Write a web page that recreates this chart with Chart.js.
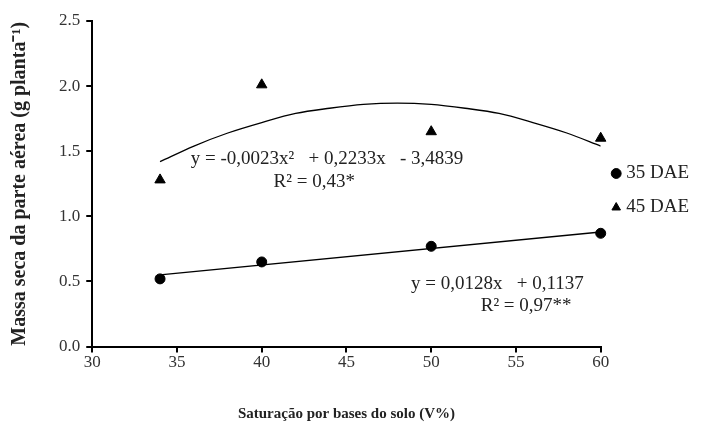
<!DOCTYPE html>
<html>
<head>
<meta charset="utf-8">
<script src="https://cdn.jsdelivr.net/npm/chart.js@4.4.0/dist/chart.umd.min.js"></script>
<style>
html,body{margin:0;padding:0;background:#fff;}
#wrap{width:727px;height:427px;}
</style>
</head>
<body>
<div id="wrap"><canvas id="c" width="727" height="427"></canvas></div>
<script>
const xValues = [34, 40, 50, 60];
const dae35 = [0.52, 0.65, 0.77, 0.87];
const dae45 = [1.28, 2.01, 1.65, 1.60];
const trend35X = [34, 60];
const trend35Y = [0.55, 0.88];
const trend45X = [34, 36, 38, 40, 42, 44, 46, 48, 50, 52, 54, 56, 58, 60];
const trend45Y = [1.42, 1.54, 1.64, 1.72, 1.79, 1.83, 1.86, 1.87, 1.86, 1.83, 1.79, 1.72, 1.64, 1.54];
const seriesNames = ['35 DAE', '45 DAE'];
const xTitle = 'Saturação por bases do solo (V%)';
const yTitle = 'Massa seca da parte aérea (g planta⁻¹)';
const equations = [
  {text: 'y = -0,0023x²   + 0,2233x   - 3,4839', x: 43.85, y: 1.44},
  {text: 'R² = 0,43*', x: 43.1, y: 1.26},
  {text: 'y = 0,0128x   + 0,1137', x: 53.9, y: 0.48},
  {text: 'R² = 0,97**', x: 55.6, y: 0.31}
];

const FONT = '"Liberation Serif", "Times New Roman", serif';
const toXY = (xs, ys) => xs.map((x, i) => ({x: x, y: ys[i]}));

const eqPlugin = {
  id: 'eq',
  afterDatasetsDraw(chart) {
    const ctx = chart.ctx;
    const xs = chart.scales.x, ys = chart.scales.y;
    ctx.save();
    ctx.fillStyle = '#222';
    ctx.font = '19px ' + FONT;
    ctx.textAlign = 'center';
    ctx.textBaseline = 'middle';
    equations.forEach(e => {
      ctx.fillText(e.text, xs.getPixelForValue(e.x), ys.getPixelForValue(e.y));
    });
    ctx.restore();
  }
};

new Chart(document.getElementById('c'), {
  type: 'scatter',
  data: {
    datasets: [
      {label: seriesNames[0], data: toXY(xValues, dae35), pointStyle: 'circle', pointRadius: 5, backgroundColor: '#000', borderColor: '#000', showLine: false, clip: false},
      {label: seriesNames[1], data: toXY(xValues, dae45), pointStyle: 'triangle', pointRadius: 6, backgroundColor: '#000', borderColor: '#000', showLine: false, clip: false},
      {label: 'trend35', data: toXY(trend35X, trend35Y), showLine: true, pointRadius: 0, borderColor: '#000', borderWidth: 1.3, fill: false},
      {label: 'trend45', data: toXY(trend45X, trend45Y), showLine: true, pointRadius: 0, borderColor: '#000', borderWidth: 1.3, fill: false, tension: 0.4, cubicInterpolationMode: 'monotone'}
    ]
  },
  options: {
    responsive: false,
    animation: false,
    layout: {padding: {left: 8, right: 28, top: 21, bottom: 4}},
    plugins: {
      tooltip: {enabled: false},
      legend: {
        position: 'right',
        align: 'start',
        title: {display: true, text: ' ', font: {size: 10}, padding: {top: 116, bottom: 0}},
        labels: {
          filter: item => item.datasetIndex < 2,
          usePointStyle: true,
          boxWidth: 1,
          boxHeight: 7,
          padding: 15,
          color: '#222',
          font: {family: FONT, size: 19}
        }
      }
    },
    scales: {
      x: {
        type: 'linear',
        min: 30, max: 60,
        border: {color: '#000', width: 2},
        grid: {display: true, drawOnChartArea: false, tickLength: 6, color: '#000', lineWidth: 2},
        ticks: {stepSize: 5, color: '#333', font: {family: FONT, size: 17}, padding: 0},
        title: {display: true, text: xTitle, color: '#222', font: {family: FONT, size: 15, weight: 'bold'}, padding: {top: 32, bottom: 0}}
      },
      y: {
        type: 'linear',
        min: 0, max: 2.5,
        border: {color: '#000', width: 2},
        grid: {display: true, drawOnChartArea: false, tickLength: 6, color: '#000', lineWidth: 2},
        ticks: {stepSize: 0.5, color: '#333', font: {family: FONT, size: 17}, padding: 6, callback: v => v.toFixed(1)},
        title: {display: true, text: yTitle, color: '#222', font: {family: FONT, size: 20, weight: 'bold'}, padding: {top: 0, bottom: 21}}
      }
    }
  },
  plugins: [eqPlugin]
});
</script>
</body>
</html>
